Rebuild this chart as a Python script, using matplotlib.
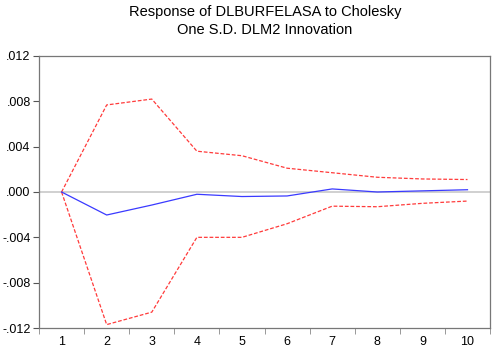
import matplotlib.pyplot as plt
from matplotlib.ticker import FixedLocator

plt.rcParams["font.family"] = ["Liberation Sans", "DejaVu Sans"]

periods = [1, 2, 3, 4, 5, 6, 7, 8, 9, 10]
response = [0.0, -0.00203, -0.00115, -0.0002, -0.0004, -0.00035, 0.00027, 0.0, 0.0001, 0.0002]
upper = [0.0, 0.00768, 0.0082, 0.0036, 0.0032, 0.0021, 0.0017, 0.0013, 0.00115, 0.0011]
lower = [0.0, -0.0117, -0.0106, -0.0040, -0.0040, -0.0028, -0.00125, -0.0013, -0.0010, -0.0008]
yticks = [-0.012, -0.008, -0.004, 0.0, 0.004, 0.008, 0.012]
ylabels = ["-.012", "-.008", "-.004", ".000", ".004", ".008", ".012"]

fig = plt.figure(figsize=(4.94, 3.51), dpi=100)
ax = fig.add_axes([0.079, 0.0655, 0.913, 0.775])

ax.axhline(0, color="#c8c8c8", lw=1.2, zorder=1)
ax.plot(periods, upper, color="#ff3b3b", lw=0.9, ls=(0, (3, 1.5)), zorder=2)
ax.plot(periods, lower, color="#ff3b3b", lw=0.9, ls=(0, (3, 1.5)), zorder=2)
ax.plot(periods, response, color="#3a3aff", lw=0.9, zorder=3)

ax.set_xlim(0.5, 10.5)
ax.set_ylim(-0.012, 0.012)
ax.set_xticks(periods)
ax.set_xticklabels([str(p) for p in periods])
ax.xaxis.set_minor_locator(FixedLocator([p + 0.5 for p in range(0, 11)]))
ax.tick_params(axis="x", which="major", length=0, labelsize=9, pad=6)
ax.tick_params(axis="x", which="minor", length=4, color="#888888", direction="out")
ax.set_yticks(yticks)
ax.set_yticklabels(ylabels)
ax.tick_params(axis="y", length=4, color="#555555", labelsize=9, pad=2)

for s in ax.spines.values():
    s.set_color("#777777")
    s.set_linewidth(0.9)

fig.suptitle("Response of DLBURFELASA to Cholesky\nOne S.D. DLM2 Innovation",
             x=0.536, y=0.985, fontsize=10.5, linespacing=1.35)

fig.savefig("out.png", dpi=100)
